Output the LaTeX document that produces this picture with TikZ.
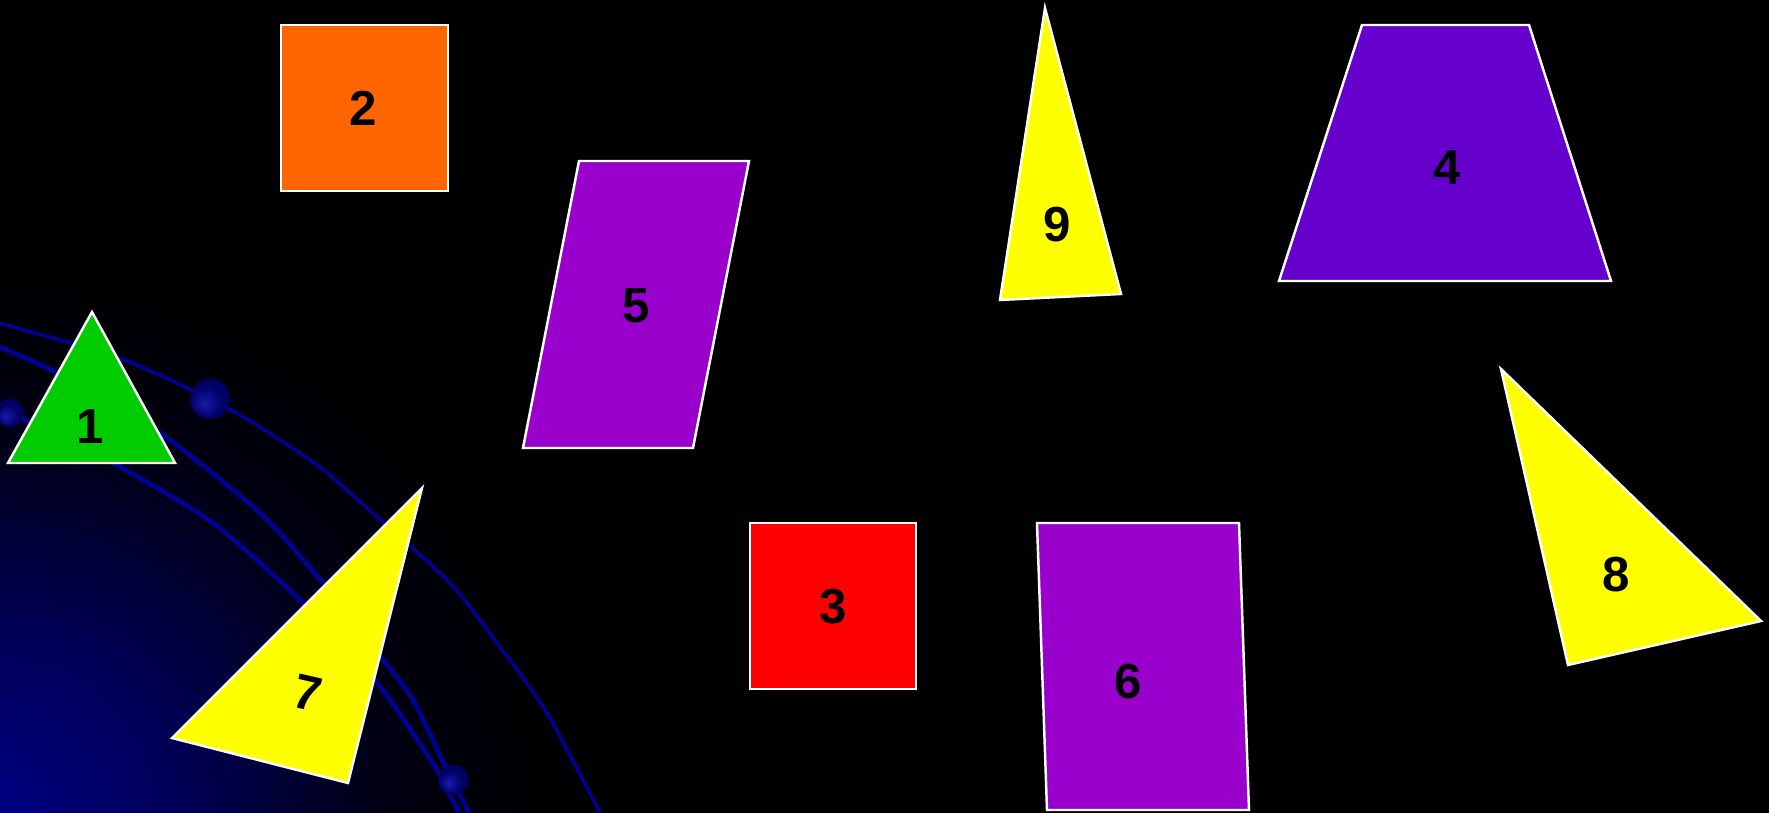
\documentclass[tikz,border=0pt]{standalone}
\usepackage{fontspec}
\setmainfont{Liberation Sans}
\usepackage{xcolor}
\usetikzlibrary{calc}
\definecolor{orbitblue}{RGB}{0,0,150}
\definecolor{glowblue}{RGB}{0,0,128}
\definecolor{dotin}{RGB}{25,25,175}
\definecolor{dotout}{RGB}{0,0,100}
\definecolor{pcgreen}{HTML}{00CC00}
\definecolor{pcorange}{HTML}{FF6600}
\definecolor{pcred}{HTML}{FF0000}
\definecolor{pcindigo}{HTML}{6600CC}
\definecolor{pcpurple}{HTML}{9900CC}
\definecolor{pcyellow}{HTML}{FFFF00}
\pgfdeclareradialshading{dotglow}{\pgfpoint{-8bp}{-6bp}}{color(0bp)=(dotin); color(20bp)=(dotout); color(25bp)=(dotout); color(50bp)=(dotout)}
\pgfdeclareradialshading{cornerglow}{\pgfpoint{0bp}{0bp}}{color(0bp)=(glowblue); color(7bp)=(glowblue!70!black); color(16bp)=(glowblue!15!black); color(23bp)=(black); color(50bp)=(black)}
\tikzset{
  piece/.style={draw=white, line width=0.7pt, line join=miter, fill=#1},
  piece/.default={pcyellow},
  num/.style={font=\fontsize{14}{16}\selectfont\bfseries, text=black, inner sep=0pt},
  orbit/.style={draw=orbitblue, line width=1.3pt},
  planet/.style={shading=dotglow},
}
\begin{document}
\begin{tikzpicture}[x=0.01cm, y=-0.01cm]
\useasboundingbox (0,0) rectangle (1769,813);
% background with glow in the lower left corner
\fill[black] (0,0) rectangle (1769,813);
\begin{scope}
\clip (0,0) rectangle (1769,813);
\shade[shading=cornerglow] (0,813) circle (6cm);
\end{scope}
% orbits
\draw[orbit, line width=1pt] plot[smooth, tension=0.4] coordinates
  {(-5,322) (117,357) (210,399) (260,427) (320,467) (350,493) (447,580) (497,643) (547,713) (600,813)};
\draw[orbit] plot[smooth, tension=0.4] coordinates
  {(-5,345) (57,373) (160,433) (260,513) (323,583) (380,656) (413,700) (447,770) (470,815)};
\draw[orbit] plot[smooth, tension=0.4] coordinates
  {(10,413) (113,463) (213,523) (303,603) (377,683) (397,710) (437,770) (460,815)};
\shade[planet] (210,399) circle (0.2cm);
\shade[planet] (10,413) circle (0.14cm);
\shade[planet] (453,780) circle (0.15cm);
% 1 green triangle
\draw[piece=pcgreen] (92,312) -- (175,463) -- (8,463) -- cycle;
\node[num] (n1) at (90,427) {1};
% 2 orange square
\draw[piece=pcorange] (281,25) rectangle (448,191);
\node[num] (n2) at (363,108) {2};
% 3 red square
\draw[piece=pcred] (750,523) rectangle (916,689);
\node[num] (n3) at (833,607) {3};
% 4 trapezium
\draw[piece=pcindigo] (1362,25) -- (1529,25) -- (1611,281) -- (1279,281) -- cycle;
\node[num] (n4) at (1447,168) {4};
% 5 parallelogram
\draw[piece=pcpurple] (579,161) -- (749,161) -- (693,448) -- (523,448) -- cycle;
\node[num] (n5) at (636,306) {5};
% 6 quadrilateral
\draw[piece=pcpurple] (1037,523) -- (1239,523) -- (1249,810) -- (1047,810) -- cycle;
\node[num] (n6) at (1128,682) {6};
% 7 tilted triangle
\draw[piece] (422,488) -- (348,783) -- (172,738) -- cycle;
\node[num, rotate=-13] (n7) at (308,693) {7};
% 8 tilted triangle
\draw[piece] (1501,369) -- (1761,621) -- (1568,665) -- cycle;
\node[num] (n8) at (1616,575) {8};
% 9 thin triangle
\draw[piece] (1045,8) -- (1121,294) -- (1000,300) -- cycle;
\node[num] (n9) at (1057,225) {9};
\end{tikzpicture}
\end{document}
